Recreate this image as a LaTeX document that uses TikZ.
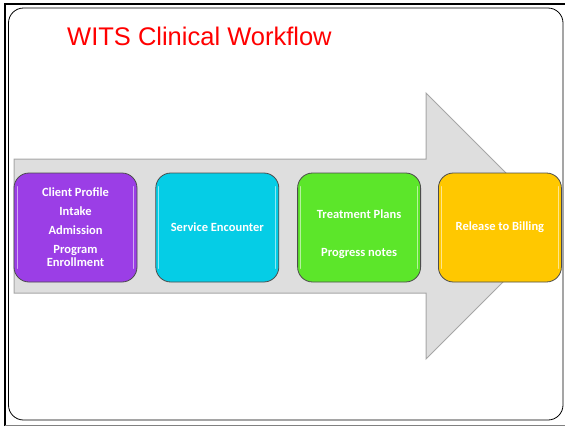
\documentclass[tikz,border=0pt]{standalone}
\usepackage{fontspec}
\setmainfont{Carlito}
\newfontfamily\titlefont{Liberation Sans}
\usetikzlibrary{positioning}

\definecolor{profilepurple}{HTML}{9B3EE6}
\definecolor{encountercyan}{HTML}{05CDE6}
\definecolor{plangreen}{HTML}{5CE62A}
\definecolor{billingyellow}{HTML}{FFC800}

\begin{document}
\begin{tikzpicture}[x=1pt,y=-1pt,node distance=18pt,
    stage/.style={draw=black!70,line width=0.8pt,rounded corners=15pt,
        minimum width=123pt,minimum height=109pt,inner sep=0pt,
        text=white,align=center,font=\fontsize{12.5}{13}\selectfont\bfseries},
    stagetext/.style={text=white,inner sep=0pt,anchor=base,
        font=\fontsize{12.5}{13}\selectfont\bfseries},
    gloss/.style={draw=white,draw opacity=0.55,line width=1pt,line cap=round}]

\useasboundingbox (0,0) rectangle (565,426);

% slide frame
\draw [line width=2pt] (5,426) -- (5,4) -- (565,4);
\draw [gray,line width=1pt] (5,425) -- (565,425);
\draw [rounded corners=15pt,line width=0.8pt] (8.5,8) rectangle (563,420);

\node (title) [anchor=base west,text=red,inner sep=0pt,
    font=\titlefont\fontsize{25.5}{28}\selectfont] at (67,45) {WITS Clinical Workflow};

% big arrow
\path [draw=black!35,fill=black!13,line width=1pt]
    (14,159) -- (426,159) -- (426,93) -- (559,226)
    -- (426,359) -- (426,293) -- (14,293) -- cycle
;

\node (profile) [stage,fill=profilepurple] at (75.5,227.5)
    {Client Profile\\[6pt]Intake\\[6pt]Admission\\[6pt]Program\\Enrollment};
\node (encounter) [stage,fill=encountercyan,right=of profile] {Service Encounter};
\node (plans) [stage,fill=plangreen,right=of encounter] {};
\node (billing) [stage,fill=billingyellow,right=17pt of plans] {Release to Billing};

\node (treat) [stagetext] at ([yshift=9pt]plans.center) {Treatment Plans};
\node (progress) [stagetext] at ([yshift=-29pt]plans.center) {Progress notes};

% glossy edges
\foreach \s in {profile,encounter,plans,billing} {
    \path [gloss] ([xshift=3.5pt,yshift=-14pt]\s.north west) -- ([xshift=3.5pt,yshift=14pt]\s.south west);
    \path [gloss] ([xshift=-3.5pt,yshift=-14pt]\s.north east) -- ([xshift=-3.5pt,yshift=14pt]\s.south east);
}

\end{tikzpicture}
\end{document}
